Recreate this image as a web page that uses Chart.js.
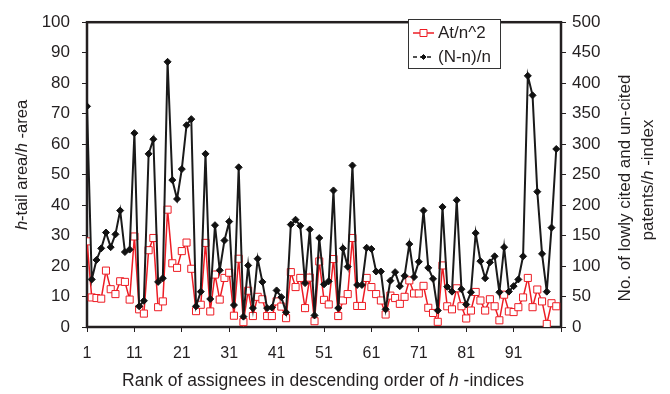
<!DOCTYPE html>
<html>
<head>
<meta charset="utf-8">
<script src="https://cdn.jsdelivr.net/npm/chart.js@4.4.0/dist/chart.umd.min.js"></script>
<style>
  html, body { margin: 0; padding: 0; background: #fff; }
  #wrap { width: 670px; height: 394px; }
</style>
</head>
<body>
<div id="wrap"><canvas id="chart" width="670" height="394"></canvas></div>
<script>
// rank of assignees (x)
var ranks = [1,2,3,4,5,6,7,8,9,10,11,12,13,14,15,16,17,18,19,20,
  21,22,23,24,25,26,27,28,29,30,31,32,33,34,35,36,37,38,39,40,
  41,42,43,44,45,46,47,48,49,50,51,52,53,54,55,56,57,58,59,60,
  61,62,63,64,65,66,67,68,69,70,71,72,73,74,75,76,77,78,79,80,
  81,82,83,84,85,86,87,88,89,90,91,92,93,94,95,96,97,98,99,100];

// At/n^2 (left axis)
var atN2 = [28.1,9.7,9.5,9.3,18.5,12.4,10.8,15.0,14.8,9.0,
  29.7,5.8,4.4,25.2,29.2,6.5,8.4,38.5,20.9,19.4,
  24.9,27.7,19.1,5.2,7.3,27.6,5.1,17.2,9.0,16.1,
  17.8,3.7,22.4,1.6,11.9,3.6,9.9,9.1,3.6,3.6,
  8.4,6.7,2.9,18.0,13.1,16.1,6.2,16.2,1.9,21.5,
  8.9,7.4,22.3,3.6,8.7,10.8,29.2,6.9,6.9,16.1,
  13.1,10.8,8.7,4.1,10.3,9.5,7.6,9.9,15.3,11.0,
  11.0,13.5,6.3,4.6,1.7,20.2,6.8,5.8,12.7,6.8,
  2.8,5.4,11.5,8.7,5.4,9.1,6.8,2.2,10.6,5.1,
  4.9,6.5,9.7,16.1,6.5,12.3,8.4,1.0,7.8,6.8];

// (N-n)/n (right axis)
var nnN = [362,78,110,129,155,131,152,191,123,127,
  318,34,43,284,308,74,80,435,241,210,
  259,331,341,34,58,284,46,167,93,142,
  173,36,262,17,101,31,112,74,31,32,
  60,49,24,168,176,166,72,160,19,146,
  70,75,224,31,129,99,265,69,69,130,
  128,91,91,29,76,90,67,84,136,82,
  107,191,97,79,27,197,66,58,208,62,
  37,57,154,108,80,106,116,57,131,58,
  67,78,116,412,380,222,120,58,163,292];

var xTicks = [1,11,21,31,41,51,61,71,81,91,101];
var xTickLabels = [1,11,21,31,41,51,61,71,81,91];

var FONT = '"Liberation Sans", Arial, sans-serif';
var INK = '#231f20';

function mixedText(ctx, parts, cx, cy, angle, size) {
  var fonts = parts.map(function (p) { return (p[1] ? 'italic ' : '') + size + 'px ' + FONT; });
  var total = 0;
  var widths = parts.map(function (p, i) {
    ctx.font = fonts[i];
    var w = ctx.measureText(p[0]).width;
    total += w;
    return w;
  });
  ctx.save();
  ctx.translate(cx, cy);
  ctx.rotate(angle);
  ctx.textBaseline = 'middle';
  ctx.textAlign = 'left';
  ctx.fillStyle = INK;
  var x = -total / 2;
  parts.forEach(function (p, i) {
    ctx.font = fonts[i];
    ctx.fillText(p[0], x, 0);
    x += widths[i];
  });
  ctx.restore();
}

var frame = {
  id: 'frame',
  beforeDatasetsDraw: function (chart) {
    var ctx = chart.ctx, a = chart.chartArea;
    ctx.save();
    ctx.strokeStyle = INK;
    ctx.lineWidth = 2.5;
    ctx.strokeRect(a.left, a.top, a.right - a.left, a.bottom - a.top);
    ctx.restore();
  },
  afterDraw: function (chart) {
    var ctx = chart.ctx;
    // axis titles
    mixedText(ctx, [['Rank of assignees in descending order of '], ['h', true], [' -indices']], 323, 381, 0, 17.5);
    mixedText(ctx, [['h', true], ['-tail area/'], ['h', true], [' -area']], 22, 165, -Math.PI / 2, 16.5);
    mixedText(ctx, [['No. of lowly cited and un-cited']], 625, 188, -Math.PI / 2, 17);
    mixedText(ctx, [['patents/'], ['h', true], [' -index']], 648, 180, -Math.PI / 2, 17);

    // legend box
    var ds = chart.data.datasets;
    ctx.save();
    ctx.fillStyle = '#fff';
    ctx.fillRect(408, 19, 92, 49);
    ctx.strokeStyle = '#333';
    ctx.lineWidth = 1;
    ctx.strokeRect(408.5, 19.5, 92, 49);
    var rows = [33, 57];
    var marks = [3.5, 2.5];
    ds.forEach(function (d, i) {
      var y = rows[i];
      ctx.strokeStyle = d.borderColor;
      ctx.lineWidth = 1.5;
      ctx.setLineDash(i === 1 ? [4, 3] : []);
      ctx.beginPath();
      ctx.moveTo(413, y);
      ctx.lineTo(434, y);
      ctx.stroke();
      ctx.setLineDash([]);
      ctx.fillStyle = d.pointBackgroundColor;
      ctx.strokeStyle = d.pointBorderColor;
      ctx.lineWidth = 1;
      ctx.beginPath();
      var r = marks[i];
      if (d.pointStyle === 'rect') {
        ctx.rect(423.5 - r, y - r, 2 * r, 2 * r);
      } else {
        ctx.moveTo(423.5 - r, y); ctx.lineTo(423.5, y - r); ctx.lineTo(423.5 + r, y); ctx.lineTo(423.5, y + r); ctx.closePath();
      }
      ctx.fill();
      ctx.stroke();
      ctx.fillStyle = INK;
      ctx.font = '17px ' + FONT;
      ctx.textAlign = 'left';
      ctx.textBaseline = 'middle';
      ctx.fillText(d.label, 438, y);
    });
    ctx.restore();
  }
};

var ctx = document.getElementById('chart').getContext('2d');
var chart = new Chart(ctx, {
  type: 'line',
  data: {
    datasets: [
      {
        label: 'At/n^2',
        data: ranks.map(function (r, i) { return { x: r, y: atN2[i] }; }),
        yAxisID: 'y',
        borderColor: '#ed1c24',
        borderWidth: 1.5,
        pointStyle: 'rect',
        pointRadius: 5,
        pointBackgroundColor: '#fff',
        pointBorderColor: '#ed1c24',
        pointBorderWidth: 1,
        tension: 0,
        order: 2
      },
      {
        label: '(N-n)/n',
        data: ranks.map(function (r, i) { return { x: r, y: nnN[i] }; }),
        yAxisID: 'y2',
        borderColor: '#1a1a1a',
        borderWidth: 2,
        pointStyle: 'rectRot',
        pointRadius: 3.5,
        pointBackgroundColor: '#111',
        pointBorderColor: '#111',
        pointBorderWidth: 1,
        tension: 0,
        order: 1
      }
    ]
  },
  options: {
    responsive: false,
    animation: false,
    events: [],
    layout: { padding: { top: 15, left: 0, right: 0, bottom: 0 } },
    plugins: { legend: { display: false }, tooltip: { enabled: false } },
    scales: {
      x: {
        type: 'linear',
        min: 1,
        max: 101,
        afterBuildTicks: function (scale) {
          scale.ticks = xTicks.map(function (v) { return { value: v }; });
        },
        afterFit: function (scale) { scale.height = 67; },
        ticks: {
          autoSkip: false,
          maxRotation: 0,
          padding: 12,
          color: INK,
          font: { family: FONT, size: 16 },
          callback: function (v) { return xTickLabels.indexOf(v) >= 0 ? String(v) : ''; }
        },
        grid: { drawOnChartArea: false, drawTicks: true, tickLength: 5, color: INK, lineWidth: 1 },
        border: { display: false }
      },
      y: {
        position: 'left',
        min: 0,
        max: 100,
        afterFit: function (scale) { scale.width = 87; },
        ticks: { stepSize: 10, padding: 12, color: INK, font: { family: FONT, size: 17 } },
        grid: { drawOnChartArea: false, drawTicks: true, tickLength: 5, color: INK, lineWidth: 1 },
        border: { display: false }
      },
      y2: {
        position: 'right',
        min: 0,
        max: 500,
        afterFit: function (scale) { scale.width = 109; },
        ticks: { stepSize: 50, padding: 6, color: INK, font: { family: FONT, size: 17 } },
        grid: { drawOnChartArea: false, drawTicks: true, tickLength: 5, color: INK, lineWidth: 1 },
        border: { display: false }
      }
    }
  },
  plugins: [frame]
});
</script>
</body>
</html>
